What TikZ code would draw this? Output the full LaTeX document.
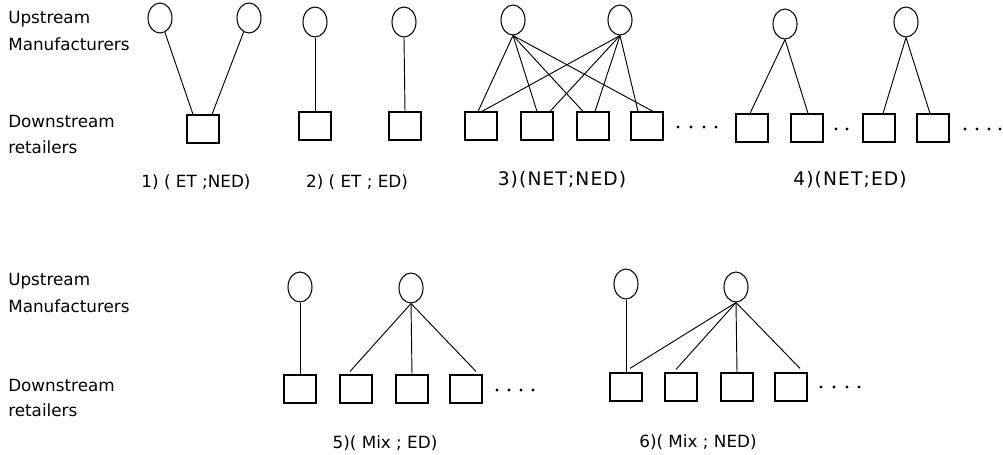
\documentclass[tikz,border=0pt]{standalone}
\usepackage{fontspec}
\setmainfont{DejaVu Sans}
\newfontfamily\widefont[LetterSpace=6]{DejaVu Sans}
\usetikzlibrary{shapes.geometric,calc}

\tikzset{
  firm/.style={ellipse, draw, line width=0.8pt, minimum width=18pt, minimum height=22.5pt, inner sep=0pt},
  shop/.style={rectangle, draw, line width=0.9pt, minimum width=24pt, minimum height=21pt, inner sep=0pt},
  link/.style={line width=0.7pt},
  side/.style={anchor=west, inner sep=0pt, font=\fontsize{12.6}{14}\selectfont},
  caption/.style={inner sep=0pt, font=\fontsize{12.6}{14}\selectfont},
  widecaption/.style={inner sep=0pt, font=\widefont\fontsize{14}{16}\selectfont},
}

\begin{document}
\begin{tikzpicture}[x=0.75pt,y=-0.75pt]
\useasboundingbox (0,0) rectangle (1003,454);

% ---------- row labels ----------
\node[side] (tu1) at (8,19)  {Upstream};
\node[side] (tu2) at (8,44)  {Manufacturers};
\node[side] (td1) at (8,121) {Downstream};
\node[side] (td2) at (8,147) {retailers};
\node[side] (bu1) at (8,281) {Upstream};
\node[side] (bu2) at (8,306) {Manufacturers};
\node[side] (bd1) at (8,385) {Downstream};
\node[side] (bd2) at (8,410) {retailers};

% ---------- 1) ET ; NED ----------
\node[firm] (a1) at (160,18) {};
\node[firm] (a2) at (249,18) {};
\node[shop] (ar) at (203,129) {};
\draw[link] (a1) -- ($(ar.north)+(-10,0)$);
\draw[link] (a2) -- ($(ar.north)+(9,0)$);
\node[caption] (la) at (196,182) {1) ( ET ;NED)};

% ---------- 2) ET ; ED ----------
\node[firm] (b1) at (315,22) {};
\node[firm] (b2) at (404,22) {};
\node[shop] (br1) at (315,126) {};
\node[shop] (br2) at (405,126) {};
\draw[link] (b1.south) -- (br1.north);
\draw[link] (b2.south) -- (br2.north);
\node[caption] (lb) at (357,182) {2) ( ET ; ED)};

% ---------- 3) NET ; NED ----------
\node[firm] (c1) at (513,20) {};
\node[firm] (c2) at (620,20) {};
\node[shop] (cr1) at (481,126) {};
\node[shop] (cr2) at (537,126) {};
\node[shop] (cr3) at (593,126) {};
\node[shop] (cr4) at (647,126) {};
\draw[link] (c1.south) -- ($(cr1.north)+(-3,0)$);
\draw[link] (c1.south) -- (cr2.north);
\draw[link] (c1.south) -- ($(cr3.north)+(-10,0)$);
\draw[link] (c1.south) -- ($(cr4.north)+(6,0)$);
\draw[link] (c2.south) -- ($(cr1.north)+(1,0)$);
\draw[link] (c2.south) -- ($(cr2.north)+(13,0)$);
\draw[link] (c2.south) -- ($(cr3.north)+(2,0)$);
\draw[link] (c2.south) -- ($(cr4.north)+(-9,0)$);
\foreach \x in {678,691,704,716} \fill (\x,127) circle (1.2pt);
\node[widecaption] (lc) at (562,180) {3)(NET;NED)};

% ---------- 4) NET ; ED ----------
\node[firm] (d1) at (785,24) {};
\node[firm] (d2) at (906,22) {};
\node[shop] (dr1) at (752,128) {};
\node[shop] (dr2) at (807,128) {};
\node[shop] (dr3) at (879,128) {};
\node[shop] (dr4) at (933,128) {};
\draw[link] (d1.south) -- ($(dr1.north)+(-2,0)$);
\draw[link] (d1.south) -- ($(dr2.north)+(1,0)$);
\draw[link] (d2.south) -- ($(dr3.north)+(4,0)$);
\draw[link] (d2.south) -- ($(dr4.north)+(-3,0)$);
\foreach \x in {836,847} \fill (\x,129) circle (1.2pt);
\foreach \x in {965,977,989,1000} \fill (\x,129) circle (1.2pt);
\node[widecaption] (ld) at (850,180) {4)(NET;ED)};

% ---------- 5) Mix ; ED ----------
\node[firm] (e1) at (300,287) {};
\node[firm] (e2) at (411,288) {};
\node[shop] (er1) at (300,389) {};
\node[shop] (er2) at (356,389) {};
\node[shop] (er3) at (412,389) {};
\node[shop] (er4) at (466,389) {};
\draw[link] (e1.south) -- (er1.north);
\draw[link] (e2.south) -- ($(er2.north)+(-6,-3)$);
\draw[link] (e2.south) -- (er3.north);
\draw[link] (e2.south) -- ($(er4.north)+(10,-3)$);
\foreach \x in {497,509,521,533} \fill (\x,390) circle (1.2pt);
\node[caption] (le) at (385,443) {5)( Mix ; ED)};

% ---------- 6) Mix ; NED ----------
\node[firm] (f1) at (626,284) {};
\node[firm] (f2) at (736,287) {};
\node[shop] (fr1) at (626,387) {};
\node[shop] (fr2) at (681,387) {};
\node[shop] (fr3) at (737,387) {};
\node[shop] (fr4) at (791,387) {};
\draw[link] (f1.south) -- (fr1.north);
\draw[link] (f2.south) -- ($(fr1.north)+(4,-4)$);
\draw[link] (f2.south) -- ($(fr2.north)+(-5,-3)$);
\draw[link] (f2.south) -- (fr3.north);
\draw[link] (f2.south) -- ($(fr4.north)+(9,-4)$);
\foreach \x in {821,834,847,859} \fill (\x,387) circle (1.2pt);
\node[caption] (lf) at (698,442) {6)( Mix ; NED)};
\end{tikzpicture}
\end{document}
